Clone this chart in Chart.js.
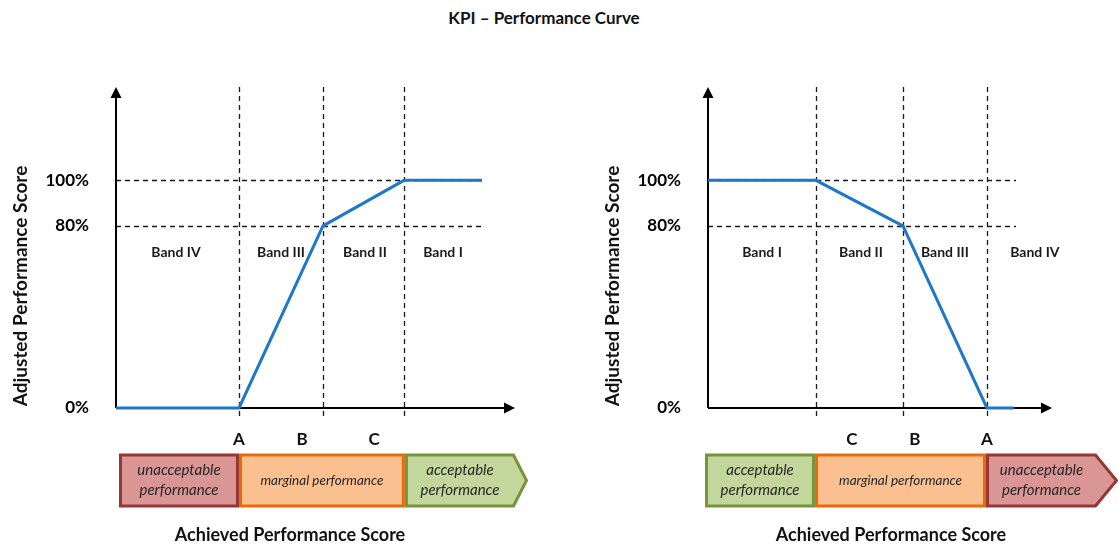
<!DOCTYPE html>
<html>
<head>
<meta charset="utf-8">
<title>KPI – Performance Curve</title>
<script src="https://cdn.jsdelivr.net/npm/chart.js@4.4.1/dist/chart.umd.min.js"></script>
<style>
  html, body { margin: 0; padding: 0; background: #fff; }
  #wrap { position: relative; width: 1118px; height: 545px; overflow: hidden; }
  #title { position: absolute; top: 8px; left: 0; width: 1088px; text-align: center;
           font: bold 17px Lato, sans-serif; color: #111; line-height: 20px; }
  canvas { position: absolute; left: 0; top: 0; }
</style>
</head>
<body>
<div id="wrap">
  <div id="title">KPI – Performance Curve</div>
  <canvas id="leftChart" width="1118" height="545"></canvas>
  <canvas id="rightChart" width="1118" height="545"></canvas>
</div>
<script>
// axes
const yTicks = [0, 80, 100];
const yMax = 141;
const yAxisTitle = "Adjusted Performance Score";
const xAxisTitle = "Achieved Performance Score";

// left panel (increasing curve)
const leftScore = [0, 41, 69, 96, 122];
const leftAdjusted = [0, 0, 80, 100, 100];
const leftMarks = [41, 69, 96];
const leftLetters = ["A", "B", "C"];
const leftLetterAt = [41, 62, 86];
const leftBands = ["Band IV", "Band III", "Band II", "Band I"];
const leftBandAt = [20, 55, 83, 109];
const leftZones = ["unacceptable\nperformance", "marginal performance", "acceptable\nperformance"];
const leftZoneEdges = [1, 41, 96.3, 133];

// right panel (decreasing curve)
const rightScore = [0, 36, 65, 93, 102];
const rightAdjusted = [100, 100, 80, 0, 0];
const rightMarks = [36, 65, 93];
const rightLetters = ["C", "B", "A"];
const rightLetterAt = [48, 69, 93];
const rightBands = ["Band I", "Band II", "Band III", "Band IV"];
const rightBandAt = [18, 51, 79, 109];
const rightZones = ["acceptable\nperformance", "marginal performance", "unacceptable\nperformance"];
const rightZoneEdges = [-1, 35.7, 92.7, 129.7];

const FONT = "Lato, 'Open Sans', sans-serif";
const zoneStyle = {
  "unacceptable\nperformance": { fill: "#d99694", stroke: "#953735" },
  "marginal performance": { fill: "#fac090", stroke: "#e46c0a" },
  "acceptable\nperformance": { fill: "#c3d69b", stroke: "#77933c" }
};

// dessine tout le schéma autour de la courbe
function diagramPlugin(p) {
  return {
    id: "diagram_" + p.name,
    beforeDatasetsDraw(chart) {
      const { ctx } = chart;
      const x = chart.scales.x, y = chart.scales.y;
      const x0 = x.getPixelForValue(0), xEnd = x.getPixelForValue(p.xMax);
      const y0 = y.getPixelForValue(0), yTop = y.getPixelForValue(yMax);
      ctx.save();

      // lignes pointillées
      ctx.setLineDash([5, 4]);
      ctx.lineWidth = 1.3;
      ctx.strokeStyle = "#1a1a1a";
      p.marks.forEach(v => {
        const px = Math.round(x.getPixelForValue(v)) + 0.5;
        ctx.beginPath(); ctx.moveTo(px, yTop); ctx.lineTo(px, y0 + 12); ctx.stroke();
      });
      yTicks.filter(v => v > 0).forEach(v => {
        const py = Math.round(y.getPixelForValue(v)) + 0.5;
        ctx.beginPath(); ctx.moveTo(x0, py); ctx.lineTo(x.getPixelForValue(p.guideEnd), py); ctx.stroke();
      });
      ctx.setLineDash([]);

      // axes avec flèches
      ctx.lineWidth = 2;
      ctx.strokeStyle = "#000";
      ctx.fillStyle = "#000";
      ctx.beginPath();
      ctx.moveTo(x0, y0); ctx.lineTo(x0, yTop + 8);
      ctx.moveTo(x0, y0); ctx.lineTo(xEnd - 8, y0);
      ctx.stroke();
      ctx.beginPath();
      ctx.moveTo(x0, yTop); ctx.lineTo(x0 - 5.5, yTop + 11); ctx.lineTo(x0 + 5.5, yTop + 11); ctx.closePath();
      ctx.fill();
      ctx.beginPath();
      ctx.moveTo(xEnd, y0); ctx.lineTo(xEnd - 11, y0 - 5.5); ctx.lineTo(xEnd - 11, y0 + 5.5); ctx.closePath();
      ctx.fill();
      ctx.restore();
    },
    afterDraw(chart) {
      const { ctx } = chart;
      const x = chart.scales.x, y = chart.scales.y;
      const x0 = x.getPixelForValue(0);
      const y0 = y.getPixelForValue(0);
      ctx.save();
      ctx.textAlign = "center";
      ctx.textBaseline = "middle";

      // noms des bandes
      ctx.fillStyle = "#1a1a1a";
      ctx.font = "bold 14px " + FONT;
      p.bands.forEach((b, i) => ctx.fillText(b, x.getPixelForValue(p.bandAt[i]), y.getPixelForValue(80) + 27));

      // lettres A, B, C
      ctx.fillStyle = "#111";
      ctx.font = "bold 17px " + FONT;
      p.letters.forEach((l, i) => ctx.fillText(l, x.getPixelForValue(p.letterAt[i]), y0 + 32));

      // boîtes colorées
      const top = y0 + 47, bottom = y0 + 98, mid = (top + bottom) / 2;
      p.zones.forEach((z, i) => {
        const st = zoneStyle[z];
        const a = x.getPixelForValue(p.zoneEdges[i]) + 1.5;
        const b = x.getPixelForValue(p.zoneEdges[i + 1]) - 1.5;
        const last = i === p.zones.length - 1;
        ctx.beginPath();
        ctx.moveTo(a, top);
        ctx.lineTo(b, top);
        if (last) ctx.lineTo(b + p.tip, mid);
        ctx.lineTo(b, bottom);
        ctx.lineTo(a, bottom);
        ctx.closePath();
        ctx.fillStyle = st.fill;
        ctx.fill();
        ctx.lineWidth = 3;
        ctx.lineJoin = "miter";
        ctx.strokeStyle = st.stroke;
        ctx.stroke();

        const lines = z.split("\n");
        ctx.fillStyle = "#262626";
        ctx.font = (lines.length > 1 ? "italic 15px " : "italic 13.5px ") + FONT;
        const cx = (a + b) / 2;
        lines.forEach((t, k) => ctx.fillText(t, cx, mid + (k - (lines.length - 1) / 2) * 20));
      });

      // titres des axes
      ctx.fillStyle = "#111";
      ctx.font = "bold 18px " + FONT;
      ctx.fillText(xAxisTitle, x.getPixelForValue(p.xTitleAt), y0 + 127);
      ctx.font = "bold 19px " + FONT;
      ctx.translate(x0 - 95, y0 - 122);
      ctx.rotate(-Math.PI / 2);
      ctx.fillText(yAxisTitle, 0, 0);
      ctx.restore();
    }
  };
}

function makePanel(canvasId, p) {
  return new Chart(document.getElementById(canvasId), {
    type: "line",
    data: {
      datasets: [{
        data: p.score.map((v, i) => ({ x: v, y: p.adjusted[i] })),
        borderColor: "#1f77c8",
        borderWidth: 3,
        pointRadius: 0,
        tension: 0,
        fill: false,
        clip: false
      }]
    },
    options: {
      responsive: false,
      animation: false,
      events: [],
      layout: { padding: p.padding },
      plugins: { legend: { display: false }, tooltip: { enabled: false } },
      scales: {
        x: { type: "linear", min: 0, max: p.xMax, display: false },
        y: {
          type: "linear",
          min: 0,
          max: yMax,
          afterFit: s => { s.width = 116; },
          afterBuildTicks: s => { s.ticks = yTicks.map(v => ({ value: v })); },
          grid: { display: false, drawTicks: false },
          border: { display: false },
          ticks: {
            padding: 27,
            color: "#000",
            font: { family: FONT, size: 17, weight: "bold" },
            callback: v => v + "%"
          }
        }
      }
    },
    plugins: [diagramPlugin(p)]
  });
}

makePanel("leftChart", {
  name: "left",
  score: leftScore, adjusted: leftAdjusted,
  marks: leftMarks, letters: leftLetters, letterAt: leftLetterAt,
  bands: leftBands, bandAt: leftBandAt,
  zones: leftZones, zoneEdges: leftZoneEdges,
  xMax: 133, guideEnd: 122, xTitleAt: 58, tip: 13,
  padding: { left: 0, right: 603, top: 87, bottom: 137 }
});

makePanel("rightChart", {
  name: "right",
  score: rightScore, adjusted: rightAdjusted,
  marks: rightMarks, letters: rightLetters, letterAt: rightLetterAt,
  bands: rightBands, bandAt: rightBandAt,
  zones: rightZones, zoneEdges: rightZoneEdges,
  xMax: 114.7, guideEnd: 102.7, xTitleAt: 61, tip: 21,
  padding: { left: 592, right: 66, top: 87, bottom: 137 }
});
</script>
</body>
</html>
